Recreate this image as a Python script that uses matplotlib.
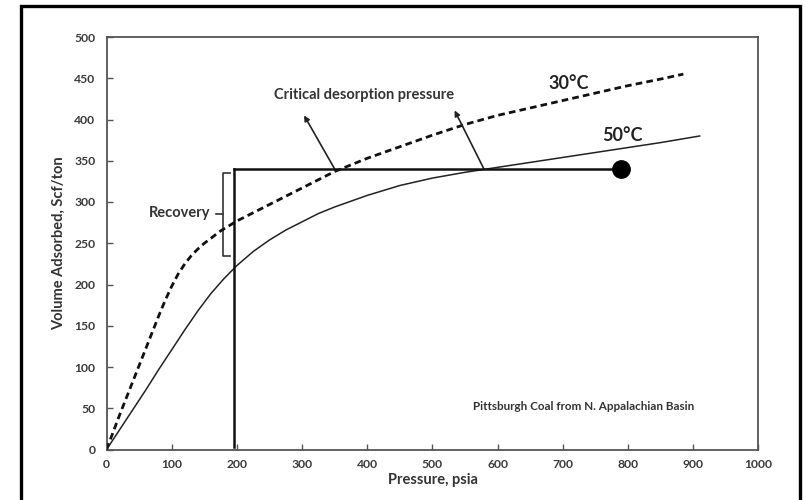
import matplotlib
matplotlib.use("Agg")
import matplotlib.pyplot as plt
from matplotlib.patches import Rectangle

# ---- data ----
p30 = [0, 20, 40, 60, 70, 80, 90, 100, 110, 120, 130, 140, 150, 160, 175,
       200, 250, 300, 350, 400, 450, 500, 550, 600, 650, 700, 750, 800, 850, 885]
v30 = [0, 42, 82, 122, 142, 162, 181, 198, 213, 225, 235, 243, 250, 256, 265,
       277, 297, 317, 337, 353, 367, 381, 394, 405, 414, 423, 432, 441, 449, 455]
p50 = [0, 20, 40, 60, 80, 100, 120, 140, 160, 180, 200, 225, 250, 275, 300,
       325, 350, 375, 400, 450, 500, 550, 600, 650, 700, 750, 800, 850, 910]
v50 = [0, 24, 48, 72, 97, 121, 145, 168, 189, 207, 223, 240, 254, 266, 276,
       286, 294, 301, 308, 320, 329, 336, 342, 348, 354, 360, 366, 372, 380]
crit_pressure = 196
initial_pressure = 790
initial_content = 340
x_ticks = [0, 100, 200, 300, 400, 500, 600, 700, 800, 900, 1000]
y_ticks = [0, 50, 100, 150, 200, 250, 300, 350, 400, 450, 500]

FONT = ["Lato", "DejaVu Sans"]
plt.rcParams["font.family"] = FONT

fig = plt.figure(figsize=(8.05, 5.0), dpi=100)
fig.patch.set_facecolor("white")

# outer black frame
fig.patches.append(Rectangle((21 / 805, -0.05), (800 - 21) / 805, 1.05 - 6 / 500,
                             transform=fig.transFigure, fill=False,
                             edgecolor="black", lw=2.4, zorder=10))

ax = fig.add_axes([106.6 / 805, (500 - 449.5) / 500,
                   (758.3 - 106.6) / 805, (449.5 - 37) / 500])
ax.set_xlim(0, 1000)
ax.set_ylim(0, 500)
for s in ax.spines.values():
    s.set_color("#555555")
    s.set_linewidth(1.3)

ax.set_xticks(x_ticks)
ax.set_yticks(y_ticks)
ax.tick_params(direction="in", length=4, width=1, color="#555555",
               labelsize=8.7, labelcolor="#3a3a3a")
for lab in ax.get_xticklabels() + ax.get_yticklabels():
    lab.set_fontweight("bold")
ax.tick_params(axis="x", pad=7)
ax.tick_params(axis="y", pad=8)

ax.set_xlabel("Pressure, psia", fontsize=10.5, fontweight="bold",
              color="#333333", labelpad=2)
ax.set_ylabel("Volume Adsorbed, Scf/ton", fontsize=10.5, fontweight="bold",
              color="#333333", labelpad=6)

# isotherms
ax.plot(p30, v30, color="#111111", lw=2.0, ls=(0, (2.4, 1.5)), zorder=3)
ax.plot(p50, v50, color="#222222", lw=1.1, zorder=3)

# pressure path
ax.plot([crit_pressure, crit_pressure], [3, initial_content], color="#111111",
        lw=1.8, zorder=4)
ax.plot([crit_pressure, initial_pressure], [initial_content, initial_content],
        color="#111111", lw=1.8, zorder=4)
ax.plot([initial_pressure], [initial_content], "o", color="black",
        markersize=12.5, zorder=5)

# recovery bracket
ax.plot([190, 179, 179, 190], [335, 335, 235, 235], color="#333333", lw=1.2)
ax.plot([168, 179], [286, 286], color="#333333", lw=1.2)
ax.text(159, 287, "Recovery", ha="right", va="center", fontsize=10.5,
        fontweight="bold", color="#333333")

# labels
ax.text(709, 444, "30\u00b0C", ha="center", va="center", fontsize=13,
        fontweight="bold", color="#222222")
ax.text(791, 381, "50\u00b0C", ha="center", va="center", fontsize=13,
        fontweight="bold", color="#222222")
ax.text(395, 430, "Critical desorption pressure", ha="center", va="center",
        fontsize=10.5, fontweight="bold", color="#333333")
ax.text(732, 52, "Pittsburgh Coal from N. Appalachian Basin", ha="center",
        va="center", fontsize=8.4, fontweight="bold", color="#333333")

arrow_kw = dict(arrowstyle="-|>", color="#222222", lw=1.2,
                mutation_scale=8, shrinkA=0, shrinkB=0)
ax.annotate("", xy=(303, 405), xytext=(350, 340), arrowprops=arrow_kw)
ax.annotate("", xy=(534, 411), xytext=(579, 340), arrowprops=arrow_kw)

fig.savefig("out.png", dpi=100, facecolor="white")
